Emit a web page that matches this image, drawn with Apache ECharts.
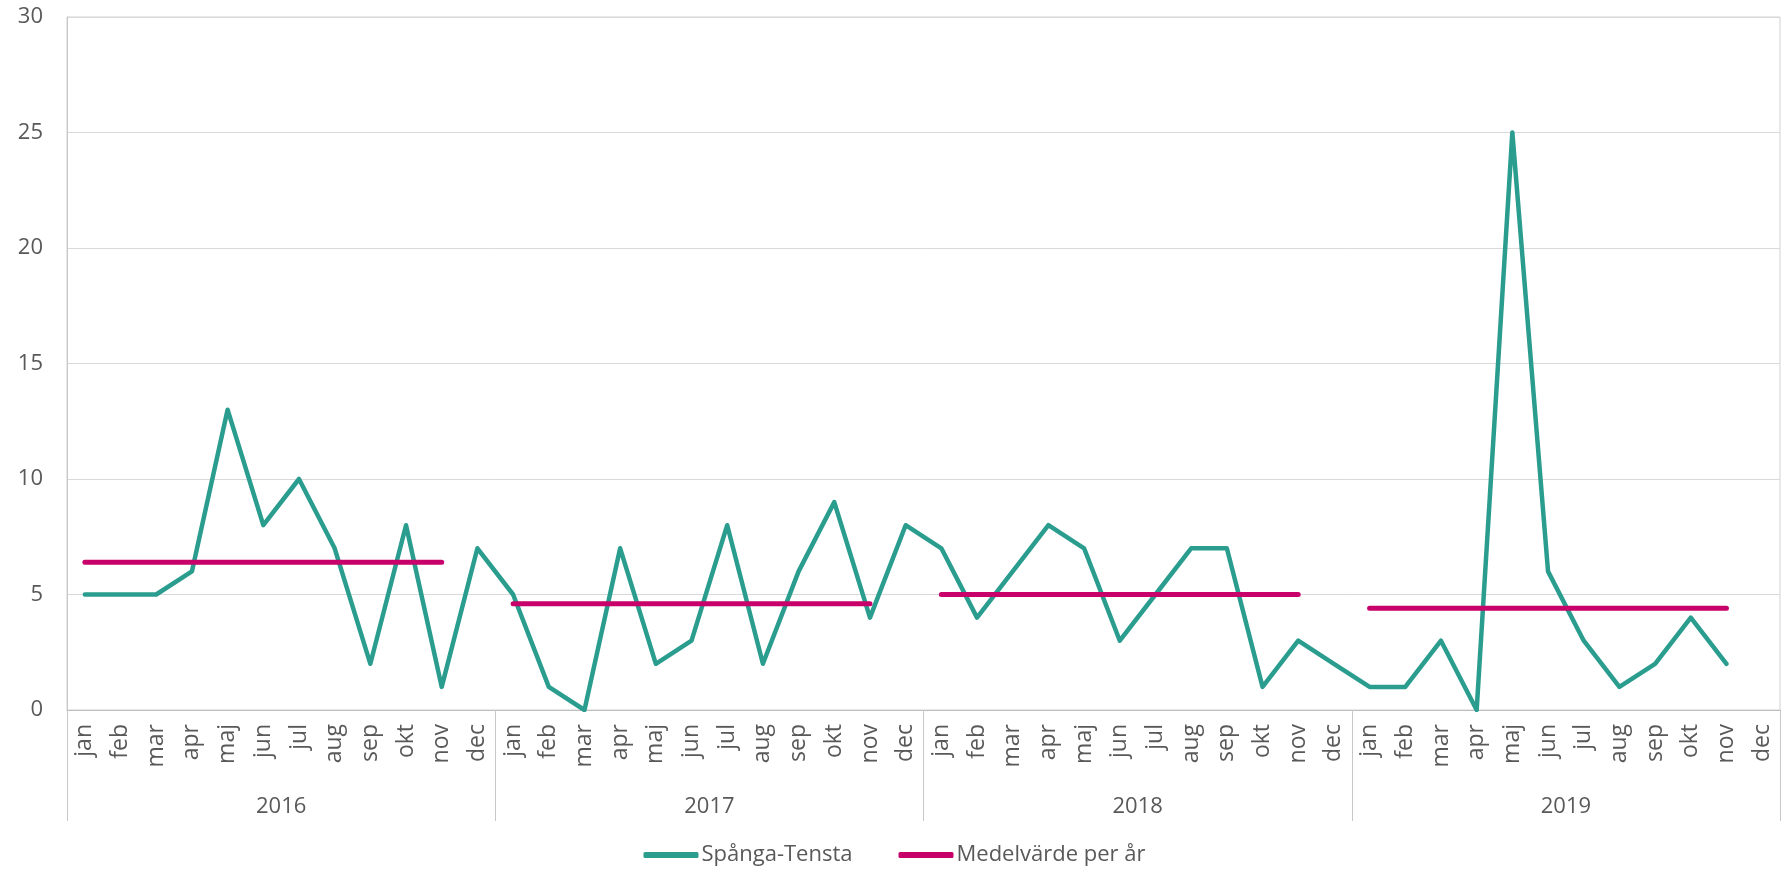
<!DOCTYPE html>
<html>
<head>
<meta charset="utf-8">
<script src="https://cdn.jsdelivr.net/npm/echarts@6/dist/echarts.min.js"></script>
<style>
html,body{margin:0;padding:0;background:#fff;}
#chart{width:1789px;height:875px;}
</style>
</head>
<body>
<div id="chart"></div>
<script>
const monthNames = ["jan","feb","mar","apr","maj","jun","jul","aug","sep","okt","nov","dec"];
const years = ["2016","2017","2018","2019"];
const values2016 = [5,5,5,6,13,8,10,7,2,8,1,7];
const values2017 = [5,1,0,7,2,3,8,2,6,9,4,8];
const values2018 = [7,4,6,8,7,3,5,7,7,1,3,2];
const values2019 = [1,1,3,0,25,6,3,1,2,4,2,null];
const yearMeans = [6.4,4.6,5.0,4.4];
const meanMonths = 11; // mean line spans jan..nov each year
const yTicks = {min:0,max:30,interval:5};

const categories = [];
years.forEach(y => monthNames.forEach(m => categories.push(m)));
const mainSeries = [].concat(values2016, values2017, values2018, values2019);
const meanSeries = [];
yearMeans.forEach(v => {
  for (let i = 0; i < 12; i++) meanSeries.push(i < meanMonths ? v : null);
});

const txt = '#595959';
const font = '"Open Sans", "Noto Sans", sans-serif';
const chart = echarts.init(document.getElementById('chart'));
chart.setOption({
  animation:false,
  textStyle:{fontFamily:font},
  grid:{left:67,right:9,top:17,bottom:165,show:true,borderColor:'#d0d0d0',borderWidth:1},
  legend:{
    bottom:4,left:'center',itemWidth:55,itemHeight:6,itemGap:46,icon:'roundRect',
    textStyle:{color:txt,fontSize:22,fontFamily:font,padding:[0,0,0,-2]},
    data:['Spånga-Tensta','Medelvärde per år']
  },
  xAxis:[
    {type:'category',data:categories,boundaryGap:true,
     axisLine:{show:true,lineStyle:{color:'#bfbfbf',width:1}},
     axisTick:{show:false},
     axisLabel:{interval:0,rotate:90,margin:14,fontSize:23,color:txt,fontFamily:font}},
    {type:'category',data:years,boundaryGap:true,position:'bottom',
     axisLine:{show:false},
     axisTick:{show:true,interval:0,length:111,lineStyle:{color:'#c8c8c8',width:1}},
     axisLabel:{interval:0,margin:86,fontSize:22,color:txt,fontFamily:font}}
  ],
  yAxis:{type:'value',min:yTicks.min,max:yTicks.max,interval:yTicks.interval,
    axisLine:{show:true,lineStyle:{color:'#c8c8c8'}},
    axisTick:{show:false},
    splitLine:{lineStyle:{color:'#d9d9d9',width:1}},
    axisLabel:{margin:24,fontSize:22,color:txt,fontFamily:font}},
  series:[
    {name:'Spånga-Tensta',type:'line',xAxisIndex:0,data:mainSeries,symbol:'none',
     lineStyle:{color:'#2a9d8f',width:4.5,cap:'round',join:'round'},itemStyle:{color:'#2a9d8f'}},
    {name:'Medelvärde per år',type:'line',xAxisIndex:0,data:meanSeries,symbol:'none',connectNulls:false,
     lineStyle:{color:'#c8006a',width:5,cap:'round'},itemStyle:{color:'#c8006a'}}
  ]
});
</script>
</body>
</html>
